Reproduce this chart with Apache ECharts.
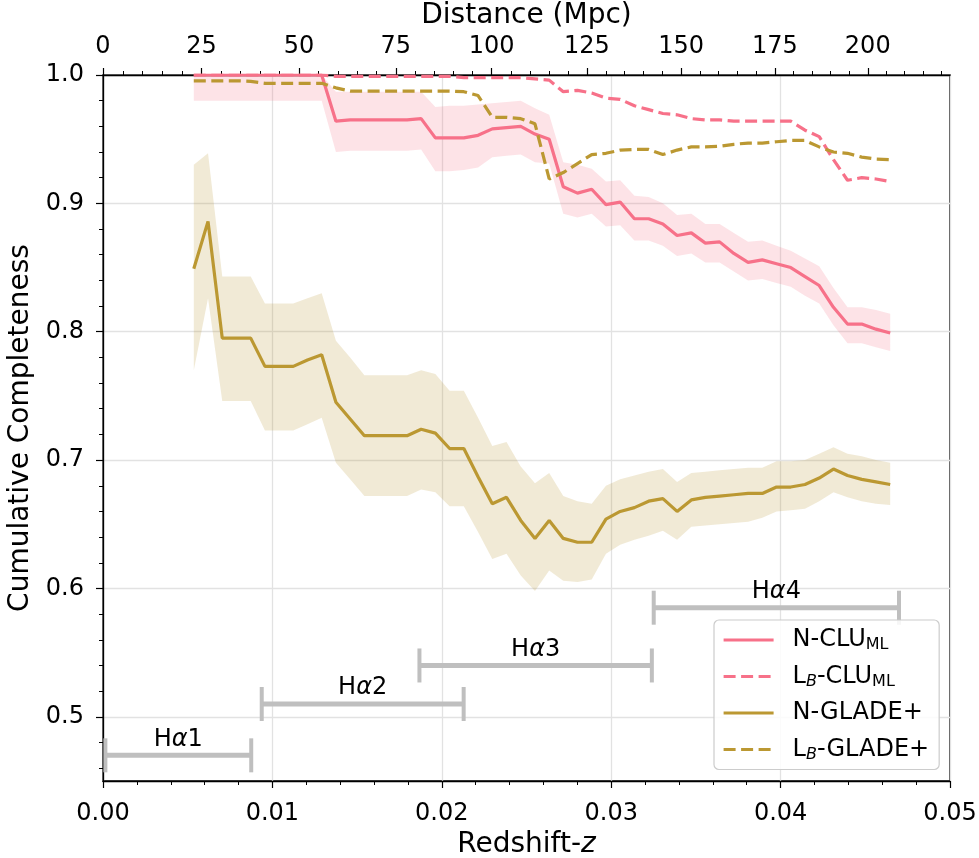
<!DOCTYPE html>
<html><head><meta charset="utf-8">
<script src="https://cdn.jsdelivr.net/npm/echarts@6/dist/echarts.min.js"></script>
<style>html,body{margin:0;padding:0;background:#fff}#c{width:979px;height:858px}</style>
</head><body><div id="c"></div>
<script>
const redshift = [0.00536,0.00620,0.00704,0.00788,0.00872,0.00956,0.01039,0.01123,0.01207,0.01291,
 0.01375,0.01459,0.01543,0.01627,0.01711,0.01795,0.01878,0.01962,0.02046,0.02130,
 0.02214,0.02298,0.02382,0.02466,0.02550,0.02634,0.02717,0.02801,0.02885,0.02969,
 0.03053,0.03137,0.03221,0.03305,0.03389,0.03473,0.03556,0.03640,0.03724,0.03808,
 0.03892,0.03976,0.04060,0.04144,0.04228,0.04312,0.04395,0.04479,0.04563,0.04647];

const nClu = [1.000,1.000,1.000,1.000,1.000,1.000,1.000,1.000,1.000,1.000,
 0.964,0.965,0.965,0.965,0.965,0.965,0.966,0.951,0.951,0.951,
 0.953,0.958,0.959,0.960,0.954,0.950,0.913,0.908,0.911,0.899,
 0.901,0.888,0.888,0.884,0.875,0.877,0.869,0.870,0.861,0.854,
 0.856,0.853,0.850,0.843,0.836,0.819,0.806,0.806,0.802,0.799];
const nCluUpper = [1.000,1.000,1.000,1.000,1.000,1.000,1.000,1.000,1.000,1.000,
 0.987,0.987,0.987,0.987,0.987,0.987,0.987,0.975,0.976,0.976,
 0.977,0.978,0.979,0.980,0.974,0.969,0.932,0.930,0.927,0.917,
 0.918,0.906,0.905,0.900,0.891,0.892,0.884,0.884,0.877,0.870,
 0.871,0.867,0.863,0.857,0.851,0.834,0.819,0.819,0.817,0.814];
const nCluLower = [0.980,0.980,0.980,0.980,0.980,0.980,0.980,0.980,0.980,0.980,
 0.940,0.941,0.941,0.941,0.941,0.941,0.942,0.925,0.925,0.926,
 0.928,0.936,0.937,0.938,0.932,0.931,0.892,0.889,0.892,0.882,
 0.883,0.871,0.871,0.867,0.859,0.861,0.854,0.854,0.847,0.840,
 0.841,0.838,0.835,0.828,0.822,0.805,0.791,0.791,0.788,0.785];
const lbClu = [1.000,1.000,1.000,1.000,1.000,1.000,1.000,1.000,1.000,1.000,
 0.999,0.999,0.999,0.999,0.999,0.999,0.999,0.999,0.999,0.998,
 0.998,0.998,0.998,0.998,0.997,0.996,0.987,0.988,0.986,0.982,
 0.981,0.976,0.973,0.970,0.969,0.966,0.965,0.965,0.964,0.964,
 0.964,0.964,0.964,0.957,0.952,0.934,0.918,0.920,0.919,0.917];
const nGlade = [0.849,0.886,0.795,0.795,0.795,0.773,0.773,0.773,0.778,0.782,
 0.745,0.732,0.719,0.719,0.719,0.719,0.724,0.721,0.709,0.709,
 0.687,0.666,0.671,0.653,0.639,0.653,0.639,0.636,0.636,0.654,
 0.660,0.663,0.668,0.670,0.660,0.669,0.671,0.672,0.673,0.674,
 0.674,0.679,0.679,0.681,0.686,0.693,0.688,0.685,0.683,0.681];
const nGladeUpper = [0.930,0.939,0.843,0.843,0.843,0.822,0.822,0.822,0.826,0.830,
 0.793,0.780,0.766,0.766,0.766,0.766,0.770,0.767,0.754,0.754,
 0.733,0.711,0.714,0.695,0.682,0.690,0.672,0.668,0.666,0.680,
 0.685,0.688,0.691,0.693,0.683,0.690,0.691,0.692,0.693,0.694,
 0.694,0.699,0.699,0.700,0.705,0.710,0.705,0.703,0.700,0.698];
const nGladeLower = [0.770,0.826,0.746,0.746,0.746,0.723,0.723,0.723,0.728,0.733,
 0.698,0.685,0.672,0.672,0.672,0.672,0.677,0.675,0.664,0.664,
 0.644,0.623,0.627,0.610,0.598,0.614,0.606,0.605,0.607,0.627,
 0.634,0.638,0.641,0.645,0.638,0.648,0.649,0.650,0.651,0.652,
 0.655,0.660,0.661,0.662,0.668,0.675,0.671,0.668,0.666,0.665];
const lbGlade = [0.9955,0.9955,0.9955,0.9955,0.995,0.9935,0.9935,0.9935,0.9935,0.9935,
 0.990,0.9875,0.9875,0.9875,0.9875,0.9875,0.9875,0.9875,0.9875,0.987,
 0.984,0.967,0.967,0.966,0.962,0.919,0.924,0.931,0.938,0.939,
 0.9415,0.942,0.942,0.938,0.9415,0.944,0.944,0.9445,0.946,0.947,
 0.947,0.948,0.949,0.949,0.944,0.940,0.939,0.936,0.9345,0.934];

// H-alpha filter coverage bars
const haLabels = ['1','2','3','4'];
const haStart = [0.00014,0.00937,0.01868,0.03251];
const haEnd = [0.00875,0.02129,0.03240,0.04699];
const haLevel = [0.470,0.510,0.540,0.585];

// tick labels
const yTickValues = [0.5,0.6,0.7,0.8,0.9,1.0];
const yMinorValues = [0.46,0.48,0.52,0.54,0.56,0.58,0.62,0.64,0.66,0.68,0.72,0.74,0.76,0.78,0.82,0.84,0.86,0.88,0.92,0.94,0.96,0.98];
const distMajor = [0,25,50,75,100,125,150,175,200];
const distMinor = [5,10,15,20,30,35,40,45,55,60,65,70,80,85,90,95,105,110,115,120,130,135,140,145,155,160,165,170,180,185,190,195,205,210,215,220];

// luminosity distance (flat LCDM, H0=70, Om=0.3) -> axis position
function lumDist(z){
  const c=299792.458,H0=70,Om=0.3,n=200; let s=0;
  for(let i=0;i<=n;i++){const zz=z*i/n;const f=1/Math.sqrt(Om*Math.pow(1+zz,3)+1-Om);s+=(i===0||i===n)?f:(i%2?4*f:2*f);}
  return (1+z)*c/H0*s*z/(3*n);
}
function zOfDist(D){let lo=0,hi=0.1;for(let k=0;k<60;k++){const m=(lo+hi)/2;if(lumDist(m)<D)lo=m;else hi=m;}return (lo+hi)/2;}
const distMajorZ = distMajor.map(zOfDist);
const distMinorZ = distMinor.map(zOfDist);

const PINK='#f77189', GOLD='#bb9832';
const FONT='DejaVu Sans';
const LW=3.2;
const pairs = arr => redshift.map((z,i)=>[z,arr[i]]);

function band(upper, lower, color){
  return {type:'custom', coordinateSystem:'cartesian2d', xAxisIndex:0, yAxisIndex:0, silent:true, z:1,
    data:[[redshift[0], lower[0]]],
    renderItem:(params, api)=>{
      const pts=[];
      for(let i=0;i<redshift.length;i++) pts.push(api.coord([redshift[i], upper[i]]));
      for(let i=redshift.length-1;i>=0;i--) pts.push(api.coord([redshift[i], lower[i]]));
      return {type:'polygon', shape:{points:pts}, style:{fill:color}};
    }};
}
function line(name, arr, color, dashed){
  return {type:'line', name, data:pairs(arr), symbol:'none', showSymbol:false, clip:true, z:3,
    lineStyle:{color, width:LW, type: dashed ? [12,5.5] : 'solid'}, itemStyle:{color}};
}

const chart = echarts.init(document.getElementById('c'), null, {renderer:'canvas'});
const axisLineStyle = {color:'#000', width:1.3};
const option = {
  animation:false,
  backgroundColor:'#fff',
  textStyle:{fontFamily:FONT},
  grid:{left:103, right:29, top:75, bottom:77, show:true, borderColor:'#000', borderWidth:1.3,
        backgroundColor:'transparent', outerBoundsMode:'none', containLabel:false},
  xAxis:[
    {type:'value', position:'bottom', min:0, max:0.05, interval:0.01,
     axisLine:{onZero:false, lineStyle:axisLineStyle},
     axisTick:{length:7, lineStyle:{color:'#000', width:1.2}},
     minorTick:{show:true, splitNumber:5, length:4, lineStyle:{color:'#000', width:1}},
     axisLabel:{fontSize:24, color:'#000', fontFamily:FONT, margin:21, formatter:v=>v.toFixed(2)},
     splitLine:{show:true, lineStyle:{color:'#e2e2e2', width:1.3}},
     name:'Redshift-{i|z}', nameLocation:'middle', nameGap:46,
     nameTextStyle:{fontSize:28, color:'#000', fontFamily:FONT, rich:{i:{fontSize:28, fontStyle:'italic', fontFamily:FONT, color:'#000'}}}},
    {type:'value', position:'top', min:0, max:0.05,
     axisLine:{onZero:false, lineStyle:axisLineStyle},
     axisTick:{length:7, customValues:distMajorZ, lineStyle:{color:'#000', width:1.2}},
     axisLabel:{fontSize:24, color:'#000', fontFamily:FONT, margin:16, customValues:distMajorZ,
       formatter:v=>{let best=0;distMajorZ.forEach((t,i)=>{if(Math.abs(t-v)<Math.abs(distMajorZ[best]-v))best=i;});return String(distMajor[best]);}},
     splitLine:{show:false},
     name:'Distance (Mpc)', nameLocation:'middle', nameGap:44,
     nameTextStyle:{fontSize:28, color:'#000', fontFamily:FONT}},
    {type:'value', position:'top', min:0, max:0.05,
     axisLine:{show:false, onZero:false},
     axisTick:{length:4, customValues:distMinorZ, lineStyle:{color:'#000', width:1}},
     axisLabel:{show:false},
     splitLine:{show:false}}
  ],
  yAxis:[
    {type:'value', position:'left', min:0.45, max:1.0,
     axisLine:{onZero:false, lineStyle:axisLineStyle},
     axisTick:{length:7, customValues:yTickValues, lineStyle:{color:'#000', width:1.2}},
     axisLabel:{fontSize:24, color:'#000', fontFamily:FONT, margin:19, customValues:yTickValues, formatter:v=>v.toFixed(1)},
     splitLine:{show:true, lineStyle:{color:'#e2e2e2', width:1.3}},
     name:'Cumulative Completeness', nameLocation:'middle', nameGap:64,
     nameTextStyle:{fontSize:28, color:'#000', fontFamily:FONT}},
    {type:'value', position:'left', min:0.45, max:1.0,
     axisLine:{show:false, onZero:false},
     axisTick:{length:4, customValues:yMinorValues, lineStyle:{color:'#000', width:1}},
     axisLabel:{show:false},
     splitLine:{show:false}}
  ],
  legend:{
    orient:'vertical', left:714, top:620,
    data:['N-CLU','LB-CLU','N-GLADE+','LB-GLADE+'],
    itemWidth:50, itemHeight:14, itemGap:8.5,
    padding:[6,10,6,8],
    itemStyle:{opacity:0},
    lineStyle:{width:LW},
    backgroundColor:'rgba(255,255,255,0.85)', borderColor:'#cccccc', borderWidth:1.2, borderRadius:5,
    selectedMode:false,
    textStyle:{fontSize:24, color:'#000', fontFamily:FONT, lineHeight:28, padding:[0,0,0,14],
      rich:{s:{fontSize:16, lineHeight:16, padding:[10,0,0,0], fontFamily:FONT, color:'#000'},
            b:{fontSize:16, lineHeight:16, padding:[10,0,0,0], fontFamily:FONT, fontStyle:'italic', color:'#000'}}},
    formatter:n=>({'N-CLU':'N-CLU{s|ML}','LB-CLU':'L{b|B}-CLU{s|ML}','N-GLADE+':'N-GLADE+','LB-GLADE+':'L{b|B}-GLADE+'}[n])
  },
  series:[
    band(nGladeUpper, nGladeLower, 'rgba(187,152,50,0.2)'),
    band(nCluUpper, nCluLower, 'rgba(247,113,137,0.2)'),
    line('N-CLU', nClu, PINK, false),
    line('LB-CLU', lbClu, PINK, true),
    line('N-GLADE+', nGlade, GOLD, false),
    line('LB-GLADE+', lbGlade, GOLD, true),
    {type:'custom', coordinateSystem:'cartesian2d', xAxisIndex:0, yAxisIndex:0, silent:true, z:2,
     encode:{x:[0,1], y:2},
     data: haStart.map((s,i)=>[s, haEnd[i], haLevel[i], i]),
     renderItem:(params, api)=>{
       const a=api.coord([api.value(0), api.value(2)]);
       const b=api.coord([api.value(1), api.value(2)]);
       const col='#bfbfbf', h=17;
       return {type:'group', children:[
         {type:'line', shape:{x1:a[0],y1:a[1],x2:b[0],y2:b[1]}, style:{stroke:col, lineWidth:5}},
         {type:'line', shape:{x1:a[0],y1:a[1]-h,x2:a[0],y2:a[1]+h}, style:{stroke:col, lineWidth:4}},
         {type:'line', shape:{x1:b[0],y1:b[1]-h,x2:b[0],y2:b[1]+h}, style:{stroke:col, lineWidth:4}},
         {type:'text', x:(a[0]+b[0])/2, y:a[1]-4, style:{text:'H{a|α}'+haLabels[api.value(3)], fill:'#000', fontSize:24, fontFamily:FONT,
           align:'center', verticalAlign:'bottom', rich:{a:{fontSize:24, fontStyle:'italic', fontFamily:FONT, fill:'#000'}}}}
       ]};
     }}
  ]
};
chart.setOption(option);
</script></body></html>
